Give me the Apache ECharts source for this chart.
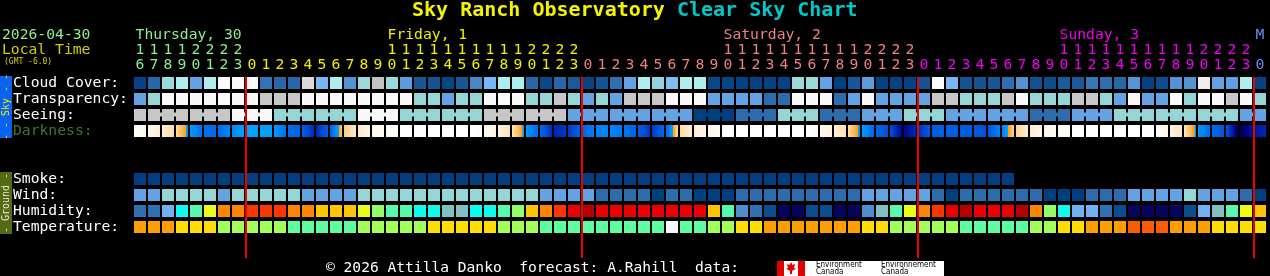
<!DOCTYPE html>
<html><head><meta charset="utf-8">
<script src="https://cdn.jsdelivr.net/npm/echarts@6/dist/echarts.min.js"></script>
<style>html,body{margin:0;padding:0;background:#000;}#c{width:1270px;height:276px;}</style>
</head><body><div id="c"></div>
<script>
// ---------- data ----------
const hourLabels = [16,17,18,19,20,21,22,23,
  0,1,2,3,4,5,6,7,8,9,10,11,12,13,14,15,16,17,18,19,20,21,22,23,
  0,1,2,3,4,5,6,7,8,9,10,11,12,13,14,15,16,17,18,19,20,21,22,23,
  0,1,2,3,4,5,6,7,8,9,10,11,12,13,14,15,16,17,18,19,20,21,22,23,
  0];
const dayNames = ['Thursday, 30','Friday, 1','Saturday, 2','Sunday, 3','M'];
const dayStartCells = [0, 8, 32, 56, 80];
const midnightCells = [8, 32, 56, 80];
const rowKeys = ['cloud','transparency','seeing','darkness','gap1','gap2','smoke','wind','humidity','temperature'];
const rowTitles = {cloud:'Cloud Cover:', transparency:'Transparency:', seeing:'Seeing:', darkness:'Darkness:', gap1:'', gap2:'', smoke:'Smoke:', wind:'Wind:', humidity:'Humidity:', temperature:'Temperature:'};

// cloud cover, percent
const cloudCover = [2,20,60,70,40,70,100,100,100,23,20,20,86,50,70,32,60,80,60,37,12,10,4,12,28,50,70,
  70,20,5,20,13,3,10,22,40,70,58,52,70,70,4,4,2,2,2,2,60,60,40,1,12,37,2,
  2,2,10,100,50,10,10,12,22,32,9,7,14,13,24,22,20,33,2,7,32,32,93,40,38,70,2];
// transparency: 0 too cloudy, 1 poor, 2 below avg, 3 average, 4 above avg, 5 transparent
const transparency = [3,2,0,0,0,0,0,0,0,1,1,1,0,0,0,0,0,0,0,0,2,2,3,2,2,0,0,
  0,2,2,1,2,3,2,3,1,1,1,0,0,0,3,3,3,3,4,4,0,0,0,4,3,0,3,
  3,3,3,1,1,2,2,2,1,0,2,2,2,1,1,2,3,0,3,3,0,2,0,0,1,0,2];
// seeing: 0 too cloudy, 1 bad, 2 poor, 3 average, 4 good, 5 excellent
const seeing = [1, 1,1,1, 1,1,1, 0,0,0, 2,2,2, 2,2,2, 0,0,0, 2,2,2, 2,2,2, 1,1,1, 1,1,1,
  3,3,3, 3,3,3, 3,3,3, 5,5,5, 4,4,4, 2,2,2, 4,4,4, 3,3,3, 2,2,2, 3,3,3, 3,3,3,
  4,4,4, 3,3,3, 2,2,2, 2,2,2, 2,2,2, 3,3];
// darkness: limiting magnitude at each hour boundary (82 values)
const darkness = [-3.9,-3.4,-2.8,-1.9,0.3,2.2,2.6,1.2,0.0,0.0,
  0.2,2.4,3.0,4.6,3.0,-1.2,-2.6,-3.2,-3.6,-3.9,
  -4,-4,-4,-4,-4,-3.6,-3.0,-2.2,0.3,2.6,
  4.6,4.2,3.0,1.5,1.2,2.0,3.0,4.3,2.6,-1.8,
  -2.8,-3.3,-3.7,-4,-4,-4,-4,-4,-4,-3.5,
  -2.9,-2.0,0.3,2.8,3.6,5.4,4.5,3.2,3.0,3.2,
  3.2,3.6,1.4,-1.5,-2.7,-3.2,-3.6,-3.9,-4,-4,
  -4,-4,-4,-3.8,-3.2,-2.3,0.3,2.6,3.4,6.0,
  5.0,4.5];
// smoke (0 = no smoke); forecast only covers the first 63 hours
const smoke = [0,0,0,0,0,0,0,0,0,0,0,0,0,0,0,0,0,0,0,0,0,0,0,0,0,0,0,
  0,0,0,0,0,0,0,0,0,0,0,0,0,0,0,0,0,0,0,0,0,0,0,0,0,0,0,
  0,0,0,0,0,0,0,0,0];
// wind, mph
const wind = [14,13,20,19,21,20,14,20,19,20,21,20,14,15,14,13,19,20,21,20,20,19,20,21,20,19,20,
  20,19,14,13,14,15,8,9,8,7,4,8,9,4,3,4,5,8,8,9,8,7,8,9,8,13,14,
  14,15,13,8,4,5,8,9,8,8,7,4,3,4,5,8,9,14,13,14,15,20,14,13,14,8,4];
// relative humidity, percent
const humidity = [32,32,42,52,57,67,77,77,82,82,82,77,77,72,72,72,67,62,57,57,52,52,47,47,52,52,57,
  62,72,77,82,87,92,87,87,87,87,87,87,87,87,72,57,37,32,27,22,22,27,27,22,22,37,47,
  57,67,77,82,87,92,87,87,87,92,77,62,52,42,42,32,27,22,22,22,22,27,42,47,57,67,72];
// temperature, deg F
const temperature = [72,72,72,63,63,63,54,54,54,54,54,45,45,45,45,45,54,54,54,54,54,63,63,63,63,63,54,
  54,54,45,45,45,45,45,45,45,45,45,37,45,45,54,54,63,63,72,72,72,72,72,72,72,63,63,
  54,54,54,54,54,45,45,45,45,45,54,54,63,63,72,72,72,80,80,80,72,72,72,63,63,63,63];

// ---------- colour scales ----------
const MONO = '"DejaVu Sans Mono", "Liberation Mono", monospace';
const FS = 14.7;
const dayColors = ['#8cf08c','#f0f000','#f08080','#f000f0','#7088f0'];
const cloudStops = [[0,'#003F7F'],[10,'#135393'],[20,'#2767A7'],[30,'#4F8FCF'],[40,'#63A3E3'],[50,'#77B7F7'],[60,'#9ADADA'],[70,'#AEEEEE'],[80,'#C2C2C2'],[90,'#EAEAEA'],[100,'#FAFAFA']];
const levelColors = ['#F9F9F9','#C7C7C7','#95D5D5','#63A3E3','#2C6CAC','#003F7F'];
const windBins = [[5,'#003F7F'],[11,'#2C6CAC'],[16,'#63A3E3'],[28,'#95D5D5'],[45,'#C7C7C7'],[1e9,'#F9F9F9']];
const humBins = [[25,'#08035D'],[30,'#0D4D8D'],[35,'#3070B0'],[40,'#4E8ECE'],[45,'#71B1F1'],[50,'#80C0C0'],[55,'#09FEED'],[60,'#55FAAD'],[65,'#94FE6A'],[70,'#EAFB16'],[75,'#FEC600'],[80,'#FC8602'],[85,'#FE3401'],[90,'#EA0000'],[95,'#B70000'],[101,'#E10000']];
const tempBins = [[-31,'#FC00FC'],[-21,'#000085'],[-12,'#0000B2'],[-3,'#0000EC'],[5,'#0034FE'],[14,'#0089FE'],[23,'#00D4FE'],[32,'#1EFEDE'],[41,'#FBFBFB'],[50,'#5EFE9E'],[59,'#A2FE5A'],[68,'#FEDE00'],[77,'#FE9E00'],[86,'#FE5A00'],[95,'#FE1E00'],[104,'#E20000'],[113,'#A90000'],[1e9,'#7E0000']];
const darkRamp = [[-4,'#ffffff'],[-3,'#fff2e0'],[-2,'#ffdfae'],[-1,'#ffc266'],[-0.3,'#ffa21e'],[-0.04,'#ffa21e'],
  [0,'#00a2ff'],[1,'#008cfc'],[2,'#0076ee'],[3,'#0062e2'],[4,'#0044cc'],[4.6,'#0024b0'],[5.2,'#000c98'],[5.6,'#000070'],[6.0,'#000050'],[6.5,'#000030']];

function hex(c){return [parseInt(c.slice(1,3),16),parseInt(c.slice(3,5),16),parseInt(c.slice(5,7),16)];}
function mix(a,b,t){const A=hex(a),B=hex(b);return 'rgb('+A.map((v,k)=>Math.round(v+(B[k]-v)*t)).join(',')+')';}
function ramp(stops,v){
  if(v<=stops[0][0]) return stops[0][1];
  for(let k=1;k<stops.length;k++){ if(v<=stops[k][0]){const [v0,c0]=stops[k-1],[v1,c1]=stops[k];return mix(c0,c1,(v-v0)/(v1-v0));} }
  return stops[stops.length-1][1];
}
function bin(bins,v){for(const [lim,c] of bins){ if(v<lim) return c; } return bins[bins.length-1][1];}
function darkFill(a,b){
  if(a===b) return ramp(darkRamp,a);
  const stops=[{offset:0,color:ramp(darkRamp,a)},{offset:1,color:ramp(darkRamp,b)}];
  const lo=Math.min(a,b),hi=Math.max(a,b);
  for(const [m] of darkRamp){ if(m>lo&&m<hi) stops.push({offset:(m-a)/(b-a),color:ramp(darkRamp,m)}); }
  stops.sort((p,q)=>p.offset-q.offset);
  return new echarts.graphic.LinearGradient(0,0,1,0,stops);
}
function dayOf(i){let d=0;for(let k=0;k<dayStartCells.length;k++){ if(i>=dayStartCells[k]) d=k; } return d;}

// ---------- series ----------
const cellKeys = hourLabels.map((h,i)=>'c'+i);
function cellSeries(key, values, fillOf, bridge){
  const row = rowKeys.indexOf(key);
  return {
    type:'custom', name:key, coordinateSystem:'cartesian2d', silent:true,
    data: values.map((v,i)=>[i,row,v]),
    encode:{x:0,y:1},
    renderItem:function(params,api){
      const i=api.value(0), v=api.value(2);
      const c=api.coord([i,row]);
      const s=api.size([1,1]);
      const w=s[0]-2, h=s[1]-4;
      const fill=fillOf(v,i);
      const rect={type:'rect',shape:{x:c[0]-w/2,y:c[1]-h/2,width:w,height:h},style:{fill:fill}};
      if(bridge && bridge(i)){
        return {type:'group',children:[rect,{type:'rect',shape:{x:c[0]+w/2-0.5,y:c[1]-2.5,width:s[0]-w+1,height:4},style:{fill:fill}}]};
      }
      return rect;
    }
  };
}
const seeingGroup = i=>Math.floor((i+2)/3);
const series = [
  cellSeries('cloud', cloudCover, v=>ramp(cloudStops,v)),
  cellSeries('transparency', transparency, v=>levelColors[v]),
  cellSeries('seeing', seeing, v=>levelColors[v], i=>i+1<seeing.length && seeingGroup(i)===seeingGroup(i+1)),
  cellSeries('darkness', darkness.slice(0,hourLabels.length), (v,i)=>darkFill(darkness[i],darkness[i+1])),
  cellSeries('smoke', smoke, v=>v<=0?'#033f80':'#2C6CAC'),
  cellSeries('wind', wind, v=>bin(windBins,v)),
  cellSeries('humidity', humidity, v=>bin(humBins,v)),
  cellSeries('temperature', temperature, v=>bin(tempBins,v)),
  {
    type:'custom', name:'midnight', coordinateSystem:'cartesian2d', silent:true, z:10, clip:false,
    data: midnightCells.map(i=>[i,0]), encode:{x:0,y:1},
    renderItem:function(params,api){
      const c=api.coord([api.value(0),0]); const s=api.size([1,1]);
      const x=c[0]-s[0]/2, top=c[1]-s[1]/2+2;
      return {type:'rect',shape:{x:x,y:top,width:2,height:258-top},style:{fill:'#ee0000'}};
    }
  }
];

const labelBase = {interval:0, verticalAlign:'middle', fontFamily:MONO, fontSize:FS, margin:10,
  color:v=>dayColors[dayOf(+String(v).slice(1))]};
const option = {
  backgroundColor:'#000000',
  animation:false,
  grid:{left:133, top:75, width:1134, height:160, outerBoundsMode:'none', containLabel:false},
  xAxis:[
    {type:'category', data:cellKeys, position:'top', axisLine:{show:false}, axisTick:{show:false}, splitLine:{show:false},
     axisLabel:Object.assign({}, labelBase, {formatter:(v,i)=>String(hourLabels[+v.slice(1)]%10)})},
    {type:'category', data:cellKeys, position:'top', offset:15, axisLine:{show:false}, axisTick:{show:false}, splitLine:{show:false},
     axisLabel:Object.assign({}, labelBase, {formatter:(v)=>{const h=hourLabels[+v.slice(1)];return h>=10?String(Math.floor(h/10)):'';}})}
  ],
  yAxis:{type:'category', data:rowKeys, inverse:true, axisLine:{show:false}, axisTick:{show:false}, splitLine:{show:false},
    axisLabel:{interval:0, align:'left', verticalAlign:'middle', margin:120, fontFamily:MONO, fontSize:FS,
      formatter:v=>rowTitles[v], color:v=>v==='darkness'?'#3c7a28':'#ffffff'}},
  series:series
};
const chart = echarts.init(document.getElementById('c'), null, {renderer:'canvas'});
chart.setOption(option);

// ---------- header / footer text ----------
const charW = FS*0.602;
const g = [];
g.push({type:'text', x:412, y:11, style:{text:'Sky Ranch Observatory', font:'bold 20px '+MONO, fill:'#f4f400', verticalAlign:'middle'}});
g.push({type:'text', x:412+22*20*0.602, y:11, style:{text:'Clear Sky Chart', font:'bold 20px '+MONO, fill:'#00c8c8', verticalAlign:'middle'}});
g.push({type:'text', x:2, y:35, style:{text:'2026-04-30', font:FS+'px '+MONO, fill:'#8cf08c', verticalAlign:'middle'}});
g.push({type:'text', x:2, y:50, style:{text:'Local Time', font:FS+'px '+MONO, fill:'#d0d000', verticalAlign:'middle'}});
g.push({type:'text', x:4, y:61.5, style:{text:'(GMT -6.0)', font:'8px '+MONO, fill:'#d0d000', verticalAlign:'middle'}});
dayNames.forEach((name,d)=>{
  const start=dayStartCells[d], end=d+1<dayStartCells.length?dayStartCells[d+1]:hourLabels.length;
  let cell=start; for(let i=start;i<end;i++){ if(hourLabels[i]>=10){cell=i;break;} }
  const cx=chart.convertToPixel({xAxisIndex:0}, cell);
  g.push({type:'text', x:cx-charW/2, y:35, style:{text:name, font:FS+'px '+MONO, fill:dayColors[d], verticalAlign:'middle'}});
});
// side bars
const skyTop=chart.convertToPixel({yAxisIndex:0},0)-7, skyBot=chart.convertToPixel({yAxisIndex:0},3)+7;
const grTop=chart.convertToPixel({yAxisIndex:0},6)-7, grBot=chart.convertToPixel({yAxisIndex:0},9)+7;
g.push({type:'rect', shape:{x:0,y:skyTop,width:12,height:skyBot-skyTop}, style:{fill:'#0a62ee'}});
g.push({type:'text', x:6, y:(skyTop+skyBot)/2, rotation:Math.PI/2, style:{text:'- - Sky - -', font:'10px '+MONO, fill:'#f0f000', align:'center', verticalAlign:'middle'}});
g.push({type:'rect', shape:{x:0,y:grTop,width:12,height:grBot-grTop}, style:{fill:'#556b0f'}});
g.push({type:'text', x:6, y:(grTop+grBot)/2, rotation:Math.PI/2, style:{text:'- Ground -', font:'10px '+MONO, fill:'#e6e6e6', align:'center', verticalAlign:'middle'}});
// footer
g.push({type:'text', x:326, y:268, style:{text:'\u00a9 2026 Attilla Danko  forecast: A.Rahill  data:', font:'14.6px '+MONO, fill:'#ffffff', verticalAlign:'middle'}});
g.push({type:'rect', shape:{x:777,y:261,width:167,height:15}, style:{fill:'#ffffff'}});
g.push({type:'rect', shape:{x:777,y:261,width:7,height:15}, style:{fill:'#e00000'}});
g.push({type:'rect', shape:{x:798,y:261,width:7,height:15}, style:{fill:'#e00000'}});
g.push({type:'polygon', shape:{points:[[791,262],[792.5,265],[795,264],[794,268],[796,268.5],[792,271],[792,274],[790,274],[790,271],[786,268.5],[788,268],[787,264],[789.5,265]]}, style:{fill:'#e00000'}});
g.push({type:'text', x:816, y:268.5, style:{text:'Environment\nCanada', font:'8px "DejaVu Sans Condensed", "Liberation Sans", sans-serif', fill:'#000000', verticalAlign:'middle', lineHeight:7}});
g.push({type:'text', x:881, y:268.5, style:{text:'Environnement\nCanada', font:'8px "DejaVu Sans Condensed", "Liberation Sans", sans-serif', fill:'#000000', verticalAlign:'middle', lineHeight:7}});
chart.setOption({graphic:g});
</script></body></html>
